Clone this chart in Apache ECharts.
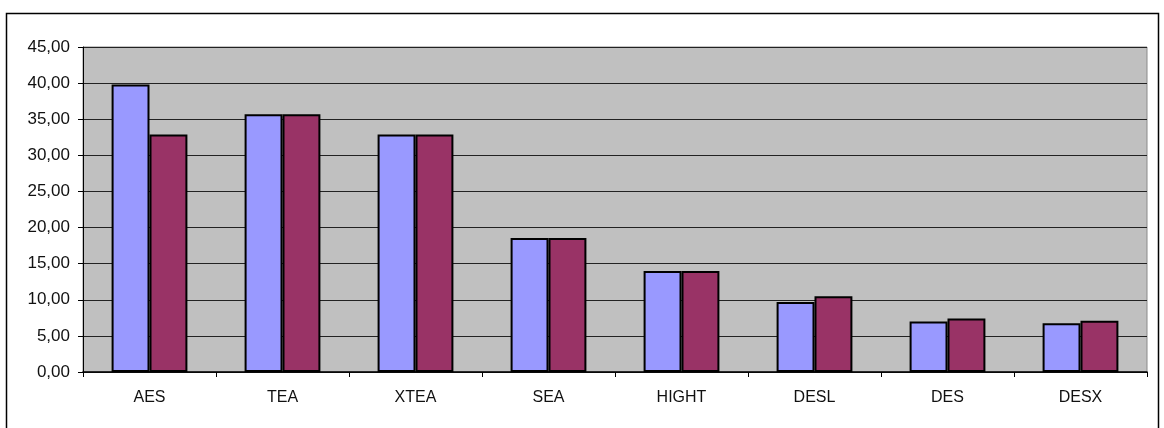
<!DOCTYPE html>
<html>
<head>
<meta charset="utf-8">
<script src="https://cdn.jsdelivr.net/npm/echarts@6/dist/echarts.min.js"></script>
<style>
  html, body { margin: 0; padding: 0; background: #fff; }
  #main { width: 1164px; height: 428px; }
</style>
</head>
<body>
<div id="main"></div>
<script>
var categories = ['AES', 'TEA', 'XTEA', 'SEA', 'HIGHT', 'DESL', 'DES', 'DESX'];
var seriesA = [39.8, 35.7, 32.9, 18.55, 14.0, 9.7, 7.0, 6.75];
var seriesB = [32.9, 35.7, 32.9, 18.55, 14.0, 10.5, 7.4, 7.1];
var yMin = 0, yMax = 45, yStep = 5;

var chart = echarts.init(document.getElementById('main'));
var option = {
  backgroundColor: '#fff',
  animation: false,
  graphic: [{
    type: 'rect',
    shape: { x: 6.5, y: 13.5, width: 1152, height: 430 },
    style: { fill: 'none', stroke: '#000', lineWidth: 1.5 },
    silent: true
  }],
  grid: {
    left: 83, right: 17, top: 47, bottom: 56,
    show: true,
    backgroundColor: '#C0C0C0',
    borderColor: '#8a8a8a',
    borderWidth: 1
  },
  xAxis: {
    type: 'category',
    data: categories,
    axisLine: { lineStyle: { color: '#000', width: 1.5 } },
    axisTick: { show: true, length: 5, lineStyle: { color: '#000' } },
    axisLabel: { color: '#111', fontFamily: 'Liberation Sans, Arial', fontSize: 16, margin: 18 }
  },
  yAxis: {
    type: 'value',
    min: yMin, max: yMax, interval: yStep,
    axisLine: { show: true, lineStyle: { color: '#000', width: 1 } },
    axisTick: { show: true, length: 5, lineStyle: { color: '#000' } },
    splitLine: { lineStyle: { color: '#222', width: 1 } },
    axisLabel: {
      color: '#111', fontFamily: 'Liberation Sans, Arial', fontSize: 17, margin: 13,
      formatter: function (v) { return v.toFixed(2).replace('.', ','); }
    }
  },
  series: [{
    type: 'bar',
    data: seriesA,
    barGap: '0%',
    barCategoryGap: '43%',
    itemStyle: { color: '#9999FF', borderColor: '#000', borderWidth: 2 }
  }, {
    type: 'bar',
    data: seriesB,
    itemStyle: { color: '#993366', borderColor: '#000', borderWidth: 2 }
  }]
};
chart.setOption(option);
</script>
</body>
</html>
